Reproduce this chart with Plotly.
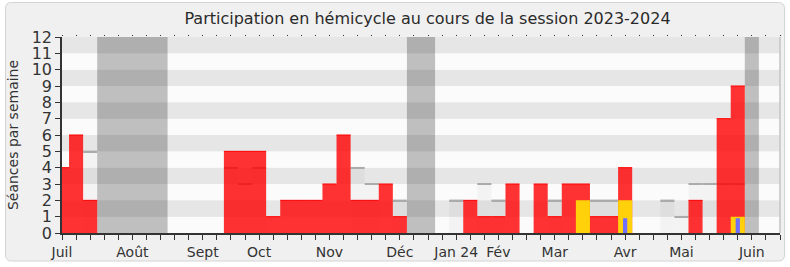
import plotly.graph_objects as go

# ---- data (one value per week, week 0 = first week of July 2023) ----
weeks = list(range(52))
presences = [4, 6, 2, 0, 0, 0, 0, 0, 0, 0, 0, 0, 5, 5, 5, 1, 2, 2, 2, 3,
             6, 2, 2, 3, 1, 0, 0, 0, 0, 2, 1, 1, 3, 0, 3, 1, 3, 3, 1, 1,
             4, 0, 0, 0, 0, 2, 0, 7, 9, 0, 0, 0]
participations = {37: 2, 40: 2, 48: 1}
questions = {40: 0.9, 48: 0.9}
medianes = {2: 5, 12: 4, 13: 3, 14: 4, 21: 4, 22: 3, 24: 2, 28: 2, 30: 3,
            31: 2, 35: 2, 38: 2, 39: 2, 43: 2, 44: 1, 45: 3, 46: 3, 47: 3, 48: 3}
vacances = [3, 4, 5, 6, 7, 25, 26, 49]
tick_weeks = [0, 5, 10, 14, 19, 24, 28, 31, 35, 40, 44, 49]
tick_labels = ["Juil", "Août", "Sept", "Oct", "Nov", "Déc", "Jan 24", "Fév",
               "Mar", "Avr", "Mai", "Juin"]
y_max = 12

FONT = "DejaVu Sans"
TXT = "#333333"

fig = go.Figure()

# vacation weeks, grouped into contiguous runs (one bar per run, no seams)
runs = []
for w in vacances:
    if runs and w == runs[-1][1] + 1:
        runs[-1][1] = w
    else:
        runs.append([w, w])
fig.add_trace(go.Bar(x=[(a + b) / 2 for a, b in runs], y=[y_max] * len(runs),
                     width=[b - a + 1 for a, b in runs],
                     marker=dict(color="rgba(0,0,0,0.24)", line=dict(width=0)),
                     hoverinfo="skip"))

# median fill
mw = list(medianes.keys())
mv = list(medianes.values())
fig.add_trace(go.Bar(x=mw, y=mv, width=1,
                     marker=dict(color="rgba(0,0,0,0.03)", line=dict(width=0)),
                     hoverinfo="skip"))
# median lines (thin bars so that they stay under the red area)
lw = 0.09
fig.add_trace(go.Bar(x=mw, y=[lw] * len(mw), base=[m - lw / 2 for m in mv], width=1,
                     marker=dict(color="#ABABAB", line=dict(width=0)),
                     hoverinfo="skip"))

# presences (red): one stepped area
sx = [w - 0.5 for w in weeks] + [weeks[-1] + 0.5]
sy = presences + [presences[-1]]
fig.add_trace(go.Scatter(x=sx, y=sy, mode="lines", line=dict(width=0, shape="hv"),
                         fill="tozeroy", fillcolor="rgba(255,0,0,0.8)",
                         hoverinfo="skip"))
rx, ry = [], []
for w, v in zip(weeks, presences):
    if v > 0:
        rx += [w - 0.5, w + 0.5, None]
        ry += [v, v, None]
fig.add_trace(go.Scatter(x=rx, y=ry, mode="lines",
                         line=dict(color="#FF0000", width=1), hoverinfo="skip"))

def rects(d, half):
    xs, ys = [], []
    for w, v in d.items():
        xs += [w - half, w - half, w + half, w + half, w - half, None]
        ys += [0, v, v, 0, 0, None]
    return xs, ys

# participations (yellow)
yx, yy = rects(participations, 0.5)
fig.add_trace(go.Scatter(x=yx, y=yy, mode="lines", line=dict(width=0),
                         fill="toself", fillcolor="#FFD10A", hoverinfo="skip"))
# questions (blue)
bx, by = rects(questions, 0.15)
fig.add_trace(go.Scatter(x=bx, y=by, mode="lines", line=dict(width=0),
                         fill="toself", fillcolor="#6F6FFF", hoverinfo="skip"))

# dummy trace for top tick axis
fig.add_trace(go.Scatter(x=[None], y=[None], xaxis="x2", showlegend=False))

W, H = 790, 267
L, R, T, B = 62, 10, 37, 34
pw, ph = W - L - R, H - T - B

def px(x):
    return (x - L) / pw

def py(y):
    return (H - B - y) / ph

shapes = []
# outer rounded frame
fx0, fx1, fy0, fy1, r = 5.5, 784.5, 2.5, 261, 6
path = (f"M {px(fx0 + r)},{py(fy0)} L {px(fx1 - r)},{py(fy0)} "
        f"Q {px(fx1)},{py(fy0)} {px(fx1)},{py(fy0 + r)} "
        f"L {px(fx1)},{py(fy1 - r)} Q {px(fx1)},{py(fy1)} {px(fx1 - r)},{py(fy1)} "
        f"L {px(fx0 + r)},{py(fy1)} Q {px(fx0)},{py(fy1)} {px(fx0)},{py(fy1 - r)} "
        f"L {px(fx0)},{py(fy0 + r)} Q {px(fx0)},{py(fy0)} {px(fx0 + r)},{py(fy0)} Z")
shapes.append(dict(type="path", xref="paper", yref="paper", path=path,
                   fillcolor="#F0F0F0", line=dict(color="#D4D4D4", width=1),
                   layer="below"))
# alternating stripes
for k in range(0, y_max):
    shapes.append(dict(type="rect", xref="paper", yref="y", x0=0, x1=1, y0=k, y1=k + 1,
                       fillcolor="#E6E6E6" if k % 2 else "#FBFBFB",
                       line=dict(width=0), layer="below"))
# right border of plot
shapes.append(dict(type="line", xref="paper", yref="paper", x0=1, x1=1, y0=0, y1=1,
                   line=dict(color="#C4C4C4", width=1.5), layer="above"))

ticktext = []
for w in weeks:
    ticktext.append(tick_labels[tick_weeks.index(w)] if w in tick_weeks else "")

fig.update_layout(
    width=W, height=H,
    margin=dict(l=L, r=R, t=T, b=B, pad=0, autoexpand=False),
    paper_bgcolor="#FFFFFF",
    plot_bgcolor="rgba(0,0,0,0)",
    barmode="overlay",
    showlegend=False,
    font=dict(family=FONT, color=TXT, size=14),
    title=dict(text="Participation en hémicycle au cours de la session 2023-2024",
               x=427.5 / W, xanchor="center", y=1 - 18 / H, yanchor="middle",
               font=dict(family=FONT, size=16, color="#2A2A2A")),
    xaxis=dict(range=[0, 51], tickmode="array", tickvals=weeks, ticktext=ticktext,
               ticks="outside", ticklen=5, tickwidth=1, tickcolor="#333333",
               showline=True, linecolor="#333333", linewidth=1.5,
               showgrid=False, zeroline=False, fixedrange=True, automargin=False,
               tickfont=dict(size=14, color=TXT)),
    xaxis2=dict(range=[0, 51], overlaying="x", side="top", anchor="y",
                tickmode="array", tickvals=weeks, ticks="outside", ticklen=1.5,
                tickwidth=1, tickcolor="#333333", showticklabels=False,
                showline=False, showgrid=False, zeroline=False, automargin=False),
    yaxis=dict(range=[0, y_max], tickmode="array", tickvals=list(range(0, y_max + 1)),
               ticks="outside", ticklen=5, tickwidth=1, tickcolor="#333333",
               showline=True, linecolor="#333333", linewidth=1.5,
               showgrid=False, zeroline=False, fixedrange=True, automargin=False,
               tickfont=dict(size=16, color=TXT),
               title=dict(text="Séances par semaine", font=dict(size=14, color=TXT),
                          standoff=10)),
    shapes=shapes,
)

fig.write_html("out.html", config={"displayModeBar": False})
